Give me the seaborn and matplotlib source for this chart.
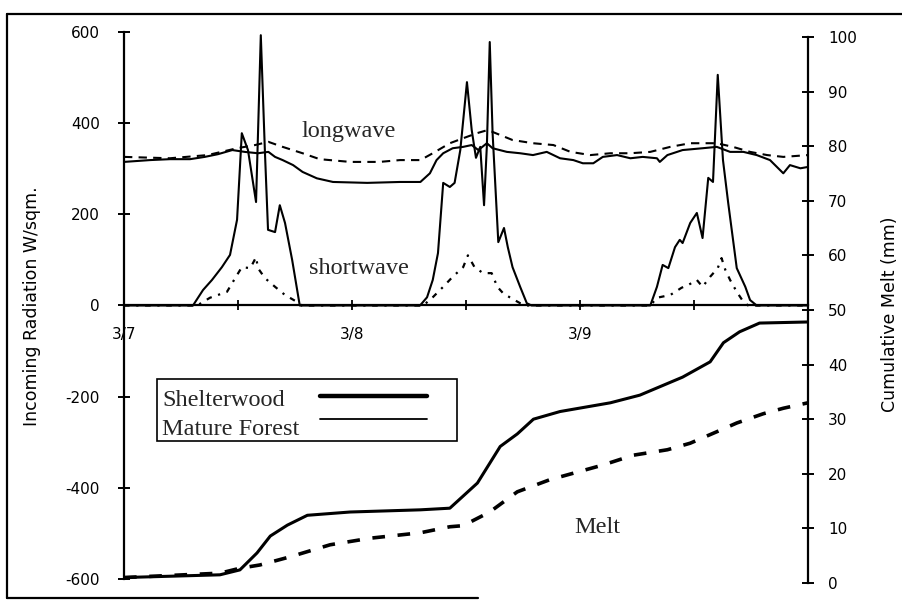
import numpy as np
import pandas as pd
import matplotlib
matplotlib.use("Agg")
import matplotlib.pyplot as plt
import seaborn as sns
from matplotlib.lines import Line2D
from matplotlib.patches import Rectangle

# ---------------- data (hours since 3/7 00:00) ----------------
sw_shelter_hours = [0, 7.26, 8.32, 9.26, 10.3, 11.16, 11.9, 12.4, 13.05, 13.9, 14.4, 14.84, 15.16, 15.9, 16.4, 16.95, 17.7, 18.5,
                    31.16, 31.9, 32.5, 33.05, 33.6, 34.3, 34.8, 35.4, 36.1, 36.6, 37.05, 37.5, 37.9, 38.2, 38.5, 38.8, 39.4, 40.0, 40.4, 40.9, 41.7, 42.4, 42.9,
                    55.4, 56.1, 56.7, 57.3, 58.0, 58.5, 58.8, 59.6, 60.3, 60.9, 61.5, 62.0, 62.5, 63.05, 63.6, 64.5, 65.4, 65.9, 66.6, 72]
sw_shelter = [0, 0, 34, 56, 84, 111, 188, 378, 341, 227, 593, 334, 166, 161, 220, 181, 100, 0,
              0, 18, 56, 115, 269, 260, 269, 341, 490, 385, 324, 348, 220, 352, 578, 378, 139, 170, 128, 84, 41, 5, 0,
              0, 41, 89, 82, 128, 144, 137, 181, 203, 148, 280, 271, 506, 319, 225, 82, 41, 12, 0, 0]

sw_mature_hours = [0, 7.7, 9.05, 10.84, 11.7, 12.4, 13.3, 13.9, 14.1, 14.84, 15.9, 16.95, 18.2, 18.7,
                   31.5, 32.5, 33.6, 34.6, 35.7, 36.2, 36.9, 37.8, 38.7, 39.3, 39.9, 40.6, 41.7, 42.4,
                   55.4, 56.1, 57.5, 58.7, 59.4, 60.3, 60.9, 61.7, 62.5, 62.9, 63.3, 63.8, 64.5, 65.2, 65.7, 72]
sw_mature = [0, 0, 17, 30, 60, 84, 82, 106, 82, 60, 41, 23, 8, 0,
             0, 18, 41, 63, 84, 110, 84, 71, 71, 41, 27, 18, 5, 0,
             0, 17, 23, 39, 45, 56, 41, 63, 82, 104, 78, 56, 30, 8, 0, 0]

lw_shelter_hours = [0, 2.74, 4.84, 6.95, 8.5, 9.9, 11.4, 12.7, 14.1, 15.2, 15.9, 16.7, 17.8, 18.8, 20.3, 22.0, 25.6, 29.05,
                    31.2, 32.2, 32.9, 33.6, 34.6, 35.7, 36.6, 37.3, 38.2, 38.8, 40.3, 41.7, 43.05, 44.5, 45.9, 47.3,
                    48.3, 49.4, 50.4, 51.9, 53.3, 54.6, 56.1, 56.4, 57.2, 58.8, 60.9, 62.4, 63.8, 65.2, 66.6, 68.0,
                    69.4, 70.1, 71.2, 72]
lw_shelter = [315, 319, 321, 321, 326, 332, 341, 337, 334, 337, 326, 319, 308, 293, 279, 271, 269, 271,
              271, 290, 319, 334, 345, 348, 352, 341, 356, 345, 337, 334, 330, 337, 323, 319,
              312, 312, 326, 330, 323, 326, 323, 315, 330, 341, 345, 348, 337, 337, 330, 319,
              290, 308, 301, 304]

lw_mature_hours = [0, 4.84, 8.8, 11.9, 13.8, 15.2, 16.7, 18.8, 20.6, 23.8, 26.9, 29.05, 31.2, 32.5, 34.3, 36.1,
                   37.15, 38.3, 39.6, 40.9, 43.05, 45.2, 47.0, 49.1, 51.2, 53.3, 55.4, 57.5, 59.6, 62.4, 64.1,
                   65.9, 67.7, 69.4, 72]
lw_mature = [326, 323, 330, 345, 352, 359, 348, 334, 321, 315, 315, 319, 319, 334, 356, 370,
             378, 385, 374, 363, 356, 352, 337, 330, 334, 334, 337, 348, 356, 356, 348,
             337, 330, 326, 330]

melt_shelter_hours = [0, 10.1, 12.2, 14.0, 15.4, 17.2, 19.3, 23.8, 31.2, 34.3, 37.2, 39.6, 41.4, 43.1, 45.9,
                      51.2, 54.3, 58.8, 61.7, 63.1, 64.8, 66.9, 72]
melt_shelter = [1.0, 1.5, 2.4, 5.5, 8.6, 10.6, 12.4, 13.0, 13.4, 13.7, 18.3, 25.0, 27.3, 30.0, 31.4,
                33.0, 34.4, 37.7, 40.5, 44.0, 46.0, 47.6, 47.8]

melt_mature_hours = [0, 10.1, 12.2, 14.3, 17.5, 21.7, 25.9, 31.2, 34.3, 35.7, 38.5, 41.4, 44.8, 47.7, 50.4,
                     53.6, 57.2, 59.6, 62.4, 64.5, 67.3, 69.4, 72]
melt_mature = [1.0, 1.8, 2.7, 3.3, 4.8, 7.0, 8.2, 9.2, 10.3, 10.5, 13.0, 16.7, 18.9, 20.3, 21.6,
               23.4, 24.4, 25.6, 27.7, 29.3, 31.0, 32.0, 33.0]

x_ticks = [0, 12, 24, 36, 48, 60, 72]
x_ticklabels = ["3/7", "", "3/8", "", "3/9", "", ""]
left_ticks = [-600, -400, -200, 0, 200, 400, 600]
left_ticklabels = ["-600", "-400", "-200", "0", "200", "400", "600"]
right_ticks = [0, 10, 20, 30, 40, 50, 60, 70, 80, 90, 100]
legend_labels = ["Shelterwood", "Mature Forest"]

# ---------------- figure ----------------
sns.set_theme(style="ticks")
plt.rcParams["font.family"] = ["DejaVu Sans"]
plt.rcParams["axes.unicode_minus"] = False

W, H = 903, 601
fig = plt.figure(figsize=(W / 100, H / 100), dpi=100)
fig.patch.set_facecolor("white")
ax = fig.add_axes([124 / W, 1 - 583 / H, 684 / W, 551 / H])
ax.set_facecolor("none")
ax2 = ax.twinx()
ax2.set_facecolor("none")

def line(axis, xs, ys, lw, ls):
    df = pd.DataFrame({"x": xs, "y": ys})
    sns.lineplot(data=df, x="x", y="y", ax=axis, color="black", lw=lw,
                 linestyle=ls, estimator=None, sort=False, legend=False)

line(ax, sw_shelter_hours, sw_shelter, 1.5, "-")
line(ax, sw_mature_hours, sw_mature, 1.6, (0, (2.5, 3, 1, 3)))
line(ax, lw_shelter_hours, lw_shelter, 1.5, "-")
line(ax, lw_mature_hours, lw_mature, 1.5, (0, (4, 3)))
line(ax2, melt_shelter_hours, melt_shelter, 2.2, "-")
line(ax2, melt_mature_hours, melt_mature, 2.6, (0, (3.5, 3.5)))

ax.set_xlim(0, 72)
ax.set_ylim(-608.8, 600)
ax2.set_ylim(0, 100.9)
ax.set_xlabel("")
ax.set_ylabel("")
ax2.set_xlabel("")
ax2.set_ylabel("")
ax.grid(False)
ax2.grid(False)

for s in ["top", "right"]:
    ax.spines[s].set_visible(False)
for s in ["top", "left", "bottom"]:
    ax2.spines[s].set_visible(False)
ax.spines["left"].set_bounds(-600, 600)
ax.spines["bottom"].set_position(("data", 0))
ax2.spines["right"].set_bounds(0, 100)
for sp in [ax.spines["left"], ax.spines["bottom"], ax2.spines["right"]]:
    sp.set_color("black")
    sp.set_linewidth(1.6)

ax.set_xticks(x_ticks)
ax.set_xticklabels(x_ticklabels)
ax.set_yticks(left_ticks)
ax.set_yticklabels(left_ticklabels)
ax2.set_yticks(right_ticks)
ax2.set_yticklabels([str(t) for t in right_ticks])

ax.tick_params(axis="x", direction="inout", length=7, width=1.3, pad=12, labelsize=11, colors="black")
ax.tick_params(axis="y", direction="inout", length=9, width=1.4, pad=13, labelsize=11, colors="black")
ax2.tick_params(axis="y", direction="inout", length=9, width=1.4, pad=10, labelsize=11, colors="black")

# annotations
serif = "Liberation Serif"
ax.text(23.7, 381, "longwave", family=serif, fontsize=17.5, ha="center", va="center")
ax.text(24.7, 82, "shortwave", family=serif, fontsize=17.5, ha="center", va="center")
ax.text(49.8, -488, "Melt", family=serif, fontsize=17.5, ha="center", va="center")

# legend box (axes fraction coordinates)
def axf(px, py):
    return ((px - 124) / 684, (583 - py) / 551)

x0, y0 = axf(157, 441)
x1, y1 = axf(457, 379)
ax2.add_patch(Rectangle((x0, y0), x1 - x0, y1 - y0, transform=ax2.transAxes,
                        facecolor="white", edgecolor="black", lw=1.2, zorder=5))
tx, ty1 = axf(162, 406)
_, ty2 = axf(162, 435)
ax2.text(tx, ty1, legend_labels[0], transform=ax2.transAxes, family=serif, fontsize=17.5,
         ha="left", va="baseline", zorder=6)
ax2.text(tx, ty2, legend_labels[1], transform=ax2.transAxes, family=serif, fontsize=17.5,
         ha="left", va="baseline", zorder=6)
lx0, ly1 = axf(320, 396)
lx1, ly2 = axf(427, 419)
ax2.add_line(Line2D([lx0, lx1], [ly1, ly1], transform=ax2.transAxes, color="black", lw=3.2,
                    solid_capstyle="round", zorder=6))
ax2.add_line(Line2D([lx0, lx1], [ly2, ly2], transform=ax2.transAxes, color="black", lw=1.3, zorder=6))

# axis titles
fig.text(32 / W, 1 - 306 / H, "Incoming Radiation W/sqm.", rotation=90, ha="center", va="center",
         fontsize=12.5, color="black")
fig.text(890 / W, 1 - 314 / H, "Cumulative Melt (mm)", rotation=90, ha="center", va="center",
         fontsize=12.5, color="black")

# outer frame
for (xa, ya, xb, yb) in [(7, 14, 903, 14), (7, 14, 7, 598), (7, 598, 478, 598)]:
    fig.add_artist(Line2D([xa / W, xb / W], [1 - ya / H, 1 - yb / H], transform=fig.transFigure,
                          color="black", lw=1.6))

fig.savefig("out.png", dpi=100)
